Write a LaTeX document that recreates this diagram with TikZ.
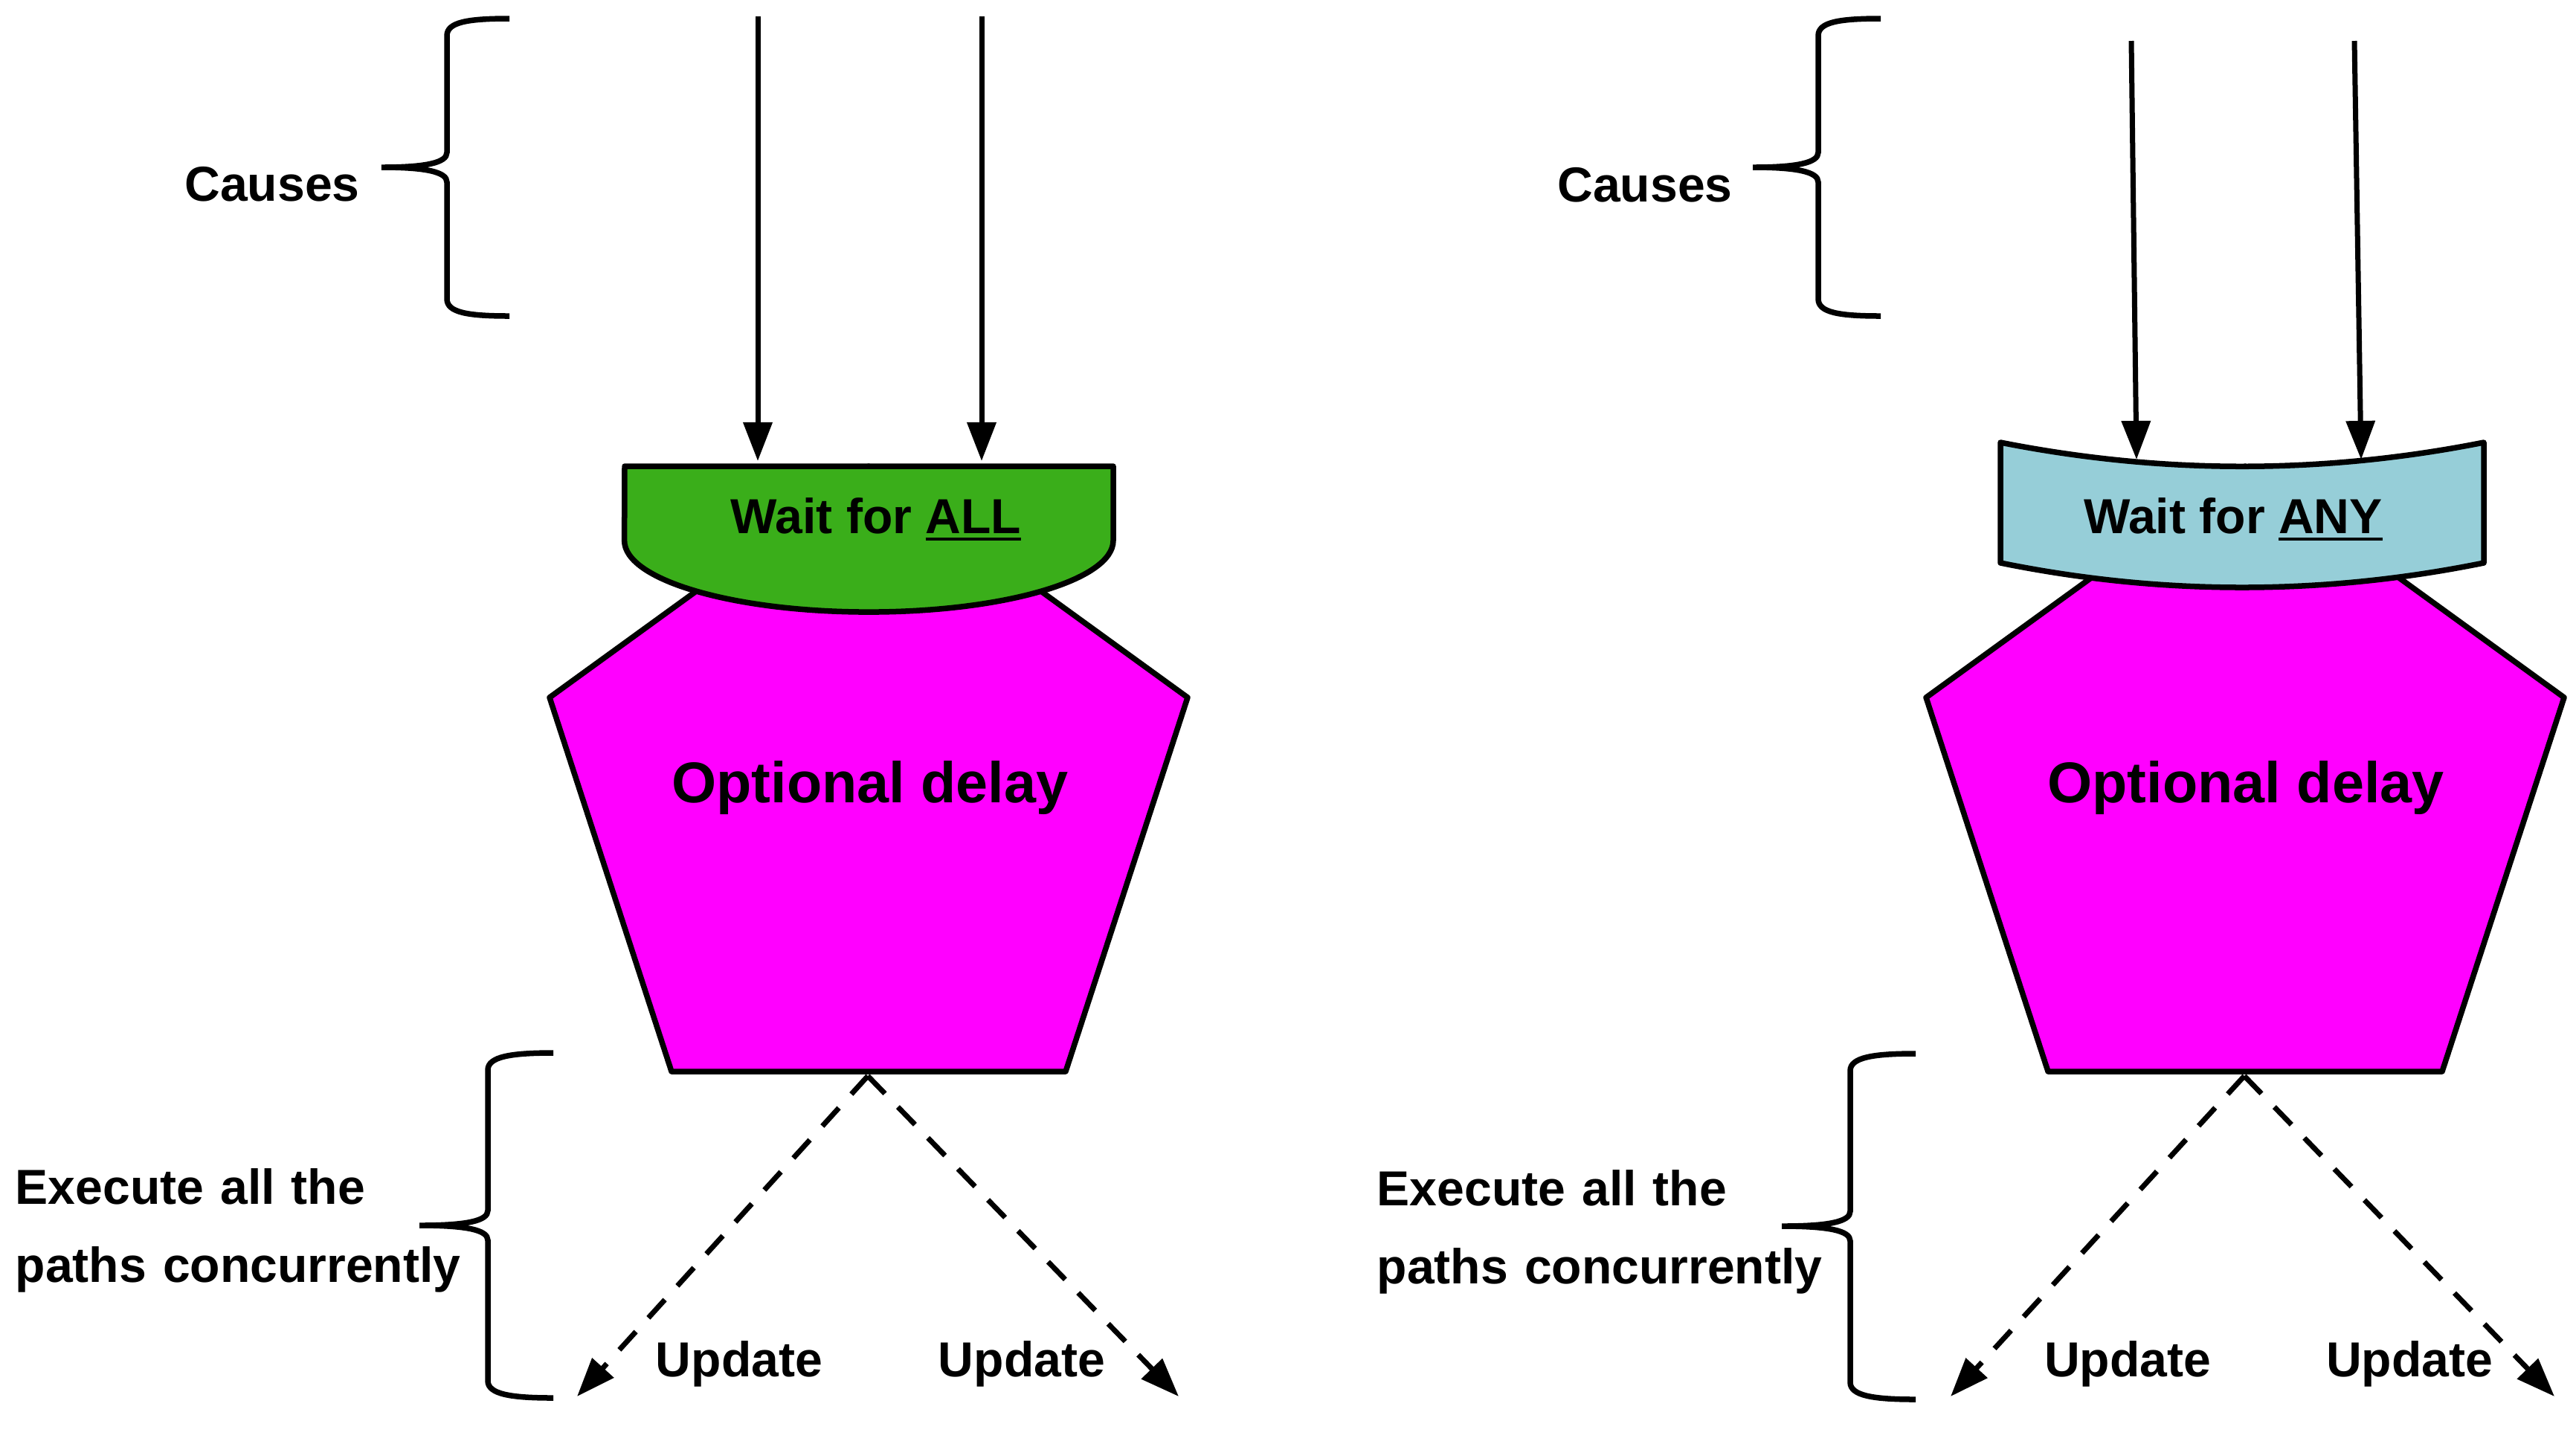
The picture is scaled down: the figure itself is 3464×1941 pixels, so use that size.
\documentclass[tikz,border=0pt]{standalone}
\usepackage{fontspec}
\setmainfont{Liberation Sans}
\usetikzlibrary{arrows.meta}
\definecolor{waitgreen}{RGB}{58,174,26}
\definecolor{waitblue}{RGB}{150,206,216}
\definecolor{delaymag}{RGB}{255,0,255}
\newcommand{\ulbar}[1]{\setbox0\hbox{#1}\rlap{\rule[-0.1cm]{\wd0}{0.04cm}}\box0}
\begin{document}
\begin{tikzpicture}[x=0.01cm,y=0.01cm,
  lbl/.style={font=\fontsize{18.8pt}{29.9pt}\selectfont\bfseries, inner sep=0pt, anchor=base},
  big/.style={font=\fontsize{22pt}{26pt}\selectfont\bfseries, inner sep=0pt, anchor=base},
  twoline/.style={lbl, anchor=base west, text width=8cm, align=left},
  outline/.style={draw=black, line width=0.075cm, line join=round},
  bracestyle/.style={draw=black, line width=0.075cm},
  causearrow/.style={draw=black, line width=0.07cm, -{Triangle[length=0.52cm,width=0.38cm]}},
  patharrow/.style={draw=black, line width=0.07cm, dash pattern=on 0.33cm off 0.25cm, -{Triangle[length=0.52cm,width=0.38cm]}}]
\useasboundingbox (0,0) rectangle (3464,-1941);
\fill[white] (0,0) rectangle (3464,-1941);

% ---------- left panel ----------
\path[outline, fill=delaymag] (1168,-627) -- (739,-938) -- (903,-1441) -- (1433,-1441) -- (1597,-938) -- cycle;
\path[outline, fill=waitgreen] (840,-627) -- (1497,-627) -- (1497,-727)
  arc[start angle=0, end angle=-180, x radius=3.285cm, y radius=0.96cm] -- cycle;

\node[lbl] (waitL) at (1178,-717) {Wait for \ulbar{ALL}};
\node[big] (delayL) at (1170,-1079) {Optional delay};
\node[lbl] (causesL) at (366,-270) {Causes};
\node[twoline] (execL) at (20,-1619) {Execute all the\\paths concurrently};
\node[lbl] (updL1) at (994,-1851) {Update};
\node[lbl] (updL2) at (1374,-1851) {Update};

\coordinate (inL1) at (1019,-22);
\coordinate (inL2) at (1320,-22);
\coordinate (hitL1) at (1019,-620);
\coordinate (hitL2) at (1320,-620);
\coordinate (outL) at (1167,-1447);
\coordinate (endL1) at (776,-1878);
\coordinate (endL2) at (1585,-1878);

\draw[causearrow] (inL1) -- (hitL1);
\draw[causearrow] (inL2) -- (hitL2);
\draw[patharrow] (outL) -- (endL1);
\draw[patharrow] (outL) -- (endL2);

\draw[bracestyle] (685,-25) .. controls (628,-25) and (601,-30) .. (601,-48) -- (601,-205)
  .. controls (601,-219) and (572,-225) .. (513,-225)
  .. controls (572,-225) and (601,-231) .. (601,-245) -- (601,-402)
  .. controls (601,-420) and (628,-425) .. (685,-425);
\draw[bracestyle] (744,-1416) .. controls (687,-1416) and (656,-1421) .. (656,-1439) -- (656,-1628)
  .. controls (656,-1642) and (627,-1648) .. (564,-1648)
  .. controls (627,-1648) and (656,-1654) .. (656,-1668) -- (656,-1857)
  .. controls (656,-1875) and (687,-1880) .. (744,-1880);

% ---------- right panel ----------
\path[outline, fill=delaymag] (3019,-627) -- (2590,-938) -- (2754,-1441) -- (3284,-1441) -- (3448,-938) -- cycle;
\path[outline, fill=waitblue] (2690,-595) -- (2690,-757)
  .. controls (2907,-801) and (3123,-801) .. (3340,-757) -- (3340,-595)
  .. controls (3123,-638) and (2907,-638) .. cycle;

\node[lbl] (waitR) at (3003,-717) {Wait for \ulbar{ANY}};
\node[big] (delayR) at (3020,-1079) {Optional delay};
\node[lbl] (causesR) at (2212,-271) {Causes};
\node[twoline] (execR) at (1851,-1621) {Execute all the\\paths concurrently};
\node[lbl] (updR1) at (2861,-1851) {Update};
\node[lbl] (updR2) at (3240,-1851) {Update};

\coordinate (inR1) at (2866,-55);
\coordinate (inR2) at (3166,-55);
\coordinate (hitR1) at (2873,-618);
\coordinate (hitR2) at (3175,-618);
\coordinate (outR) at (3018,-1447);
\coordinate (endR1) at (2623,-1878);
\coordinate (endR2) at (3435,-1878);

\draw[causearrow] (inR1) -- (hitR1);
\draw[causearrow] (inR2) -- (hitR2);
\draw[patharrow] (outR) -- (endR1);
\draw[patharrow] (outR) -- (endR2);

\draw[bracestyle] (2529,-25) .. controls (2472,-25) and (2445,-30) .. (2445,-48) -- (2445,-205)
  .. controls (2445,-219) and (2416,-225) .. (2357,-225)
  .. controls (2416,-225) and (2445,-231) .. (2445,-245) -- (2445,-402)
  .. controls (2445,-420) and (2472,-425) .. (2529,-425);
\draw[bracestyle] (2576,-1417) .. controls (2519,-1417) and (2488,-1422) .. (2488,-1440) -- (2488,-1629)
  .. controls (2488,-1643) and (2459,-1649) .. (2396,-1649)
  .. controls (2459,-1649) and (2488,-1655) .. (2488,-1669) -- (2488,-1859)
  .. controls (2488,-1877) and (2519,-1882) .. (2576,-1882);
\end{tikzpicture}
\end{document}
